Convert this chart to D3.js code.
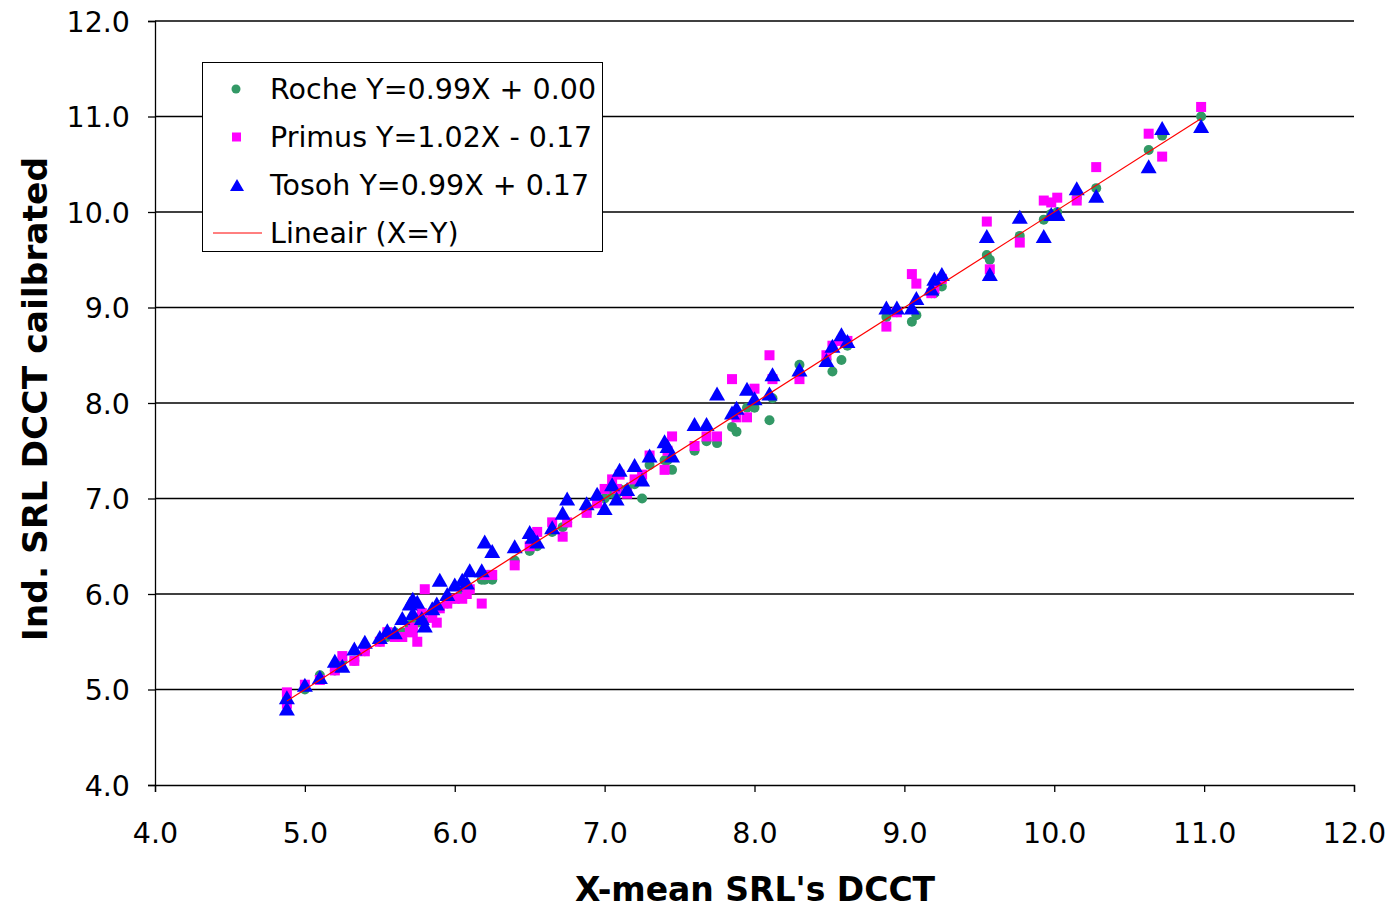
<!DOCTYPE html>
<html>
<head>
<meta charset="utf-8">
<script src="https://cdn.jsdelivr.net/npm/d3@7"></script>
<style>
  html, body { margin: 0; padding: 0; background: #fff; }
  svg { display: block; font-family: Tahoma, "DejaVu Sans", sans-serif; }
</style>
</head>
<body>
<svg id="chart" width="1394" height="911"></svg>
<script>
// X-mean of the SRLs per sample
const xMean = [4.88,4.88,5.0,5.1,5.2,5.25,5.33,5.4,5.5,5.55,5.6,5.65,5.7,5.72,5.72,5.75,5.78,5.8,5.85,5.88,5.9,5.95,6.0,6.05,6.08,6.1,6.18,6.2,6.25,6.4,6.5,6.52,6.55,6.65,6.72,6.75,6.88,6.95,7.0,7.05,7.08,7.1,7.15,7.2,7.25,7.3,7.4,7.42,7.45,7.6,7.68,7.75,7.85,7.88,7.95,8.0,8.1,8.12,8.3,8.48,8.52,8.58,8.62,8.88,8.95,9.05,9.08,9.18,9.2,9.25,9.55,9.57,9.77,9.93,9.98,10.02,10.15,10.28,10.63,10.72,10.98];
const roche  = [4.9,4.88,5.0,5.15,5.2,5.3,5.3,5.4,5.5,5.55,5.6,5.6,5.65,5.7,5.7,5.7,5.75,5.72,5.8,5.85,5.85,5.9,5.95,6.0,6.05,6.05,6.15,6.15,6.15,6.35,6.45,6.5,6.5,6.65,6.7,6.75,6.85,6.95,7.0,7.05,7.05,7.1,7.1,7.15,7.0,7.35,7.4,7.4,7.3,7.5,7.6,7.58,7.75,7.7,7.95,7.95,7.82,8.05,8.4,8.45,8.33,8.45,8.6,8.9,8.95,8.85,8.92,9.15,9.15,9.22,9.55,9.5,9.75,9.92,9.98,10.0,10.15,10.25,10.65,10.8,11.0];
const primus = [4.97,4.85,5.05,5.1,5.2,5.35,5.3,5.4,5.5,5.6,5.55,5.55,5.6,5.65,5.6,5.5,5.8,6.05,5.75,5.7,5.85,5.9,5.95,5.95,6.0,6.05,5.9,6.2,6.2,6.3,6.5,6.55,6.65,6.75,6.6,6.75,6.85,6.95,7.1,7.2,7.1,7.25,7.05,7.2,7.25,7.45,7.3,7.5,7.65,7.55,7.65,7.65,8.25,7.85,7.85,8.15,8.5,8.25,8.25,8.5,8.6,8.65,8.65,8.8,8.95,9.35,9.25,9.15,9.2,9.3,9.9,9.4,9.68,10.12,10.1,10.15,10.12,10.47,10.82,10.58,11.1];
const tosoh  = [4.92,4.8,5.05,5.13,5.3,5.25,5.43,5.5,5.55,5.62,5.6,5.75,5.9,5.8,5.95,5.92,5.75,5.67,5.85,5.9,6.15,6.0,6.1,6.15,6.12,6.25,6.25,6.55,6.45,6.5,6.65,6.6,6.55,6.7,6.85,7.0,6.95,7.05,6.9,7.15,7.0,7.3,7.1,7.35,7.2,7.45,7.6,7.55,7.45,7.78,7.78,8.1,7.9,7.95,8.15,8.05,8.1,8.3,8.35,8.45,8.6,8.72,8.65,9.0,9.0,9.0,9.1,9.2,9.3,9.35,9.75,9.35,9.95,9.75,9.98,9.98,10.25,10.17,10.48,10.88,10.9];
const xTicks = [4,5,6,7,8,9,10,11,12];
const yTicks = [4,5,6,7,8,9,10,11,12];
const legendLabels = ["Roche Y=0.99X + 0.00","Primus Y=1.02X - 0.17","Tosoh Y=0.99X + 0.17","Lineair (X=Y)"];
const lineRange = [4.88, 10.98];

const svg = d3.select("#chart");
const x = d3.scaleLinear().domain([4,12]).range([155,1354]);
const y = d3.scaleLinear().domain([4,12]).range([785,21]);

// gridlines
svg.append("g").selectAll("line").data(yTicks.filter(d=>d>4)).join("line")
  .attr("x1",155).attr("x2",1354).attr("y1",d=>y(d)).attr("y2",d=>y(d))
  .attr("stroke","#000").attr("stroke-width",1.3);

// axes
const fmt = d3.format(".1f");
const xAxis = svg.append("g").attr("transform","translate(0,785)")
  .call(d3.axisBottom(x).tickValues(xTicks).tickFormat(fmt).tickSize(7).tickPadding(31));
const yAxis = svg.append("g").attr("transform","translate(155,0)")
  .call(d3.axisLeft(y).tickValues(yTicks).tickFormat(fmt).tickSize(7).tickPadding(18));
[xAxis,yAxis].forEach(a=>{
  a.select(".domain").attr("stroke","#000").attr("stroke-width",1.3);
  a.selectAll(".tick line").attr("stroke","#000").attr("stroke-width",1.3);
  a.selectAll(".tick text").attr("fill","#000").style("font-size","28.5px")
   .style("font-family","Tahoma, 'DejaVu Sans', sans-serif");
});
yAxis.selectAll(".tick text").attr("dy","0.36em");

// markers
const data = xMean.map((d,i)=>({x:d, r:roche[i], p:primus[i], t:tosoh[i]}));
svg.append("g").selectAll("circle").data(data).join("circle")
  .attr("cx",d=>x(d.x)).attr("cy",d=>y(d.r)).attr("r",5).attr("fill","#339966");
svg.append("g").selectAll("rect").data(data).join("rect")
  .attr("x",d=>x(d.x)-5).attr("y",d=>y(d.p)-5).attr("width",10).attr("height",10).attr("fill","#FF00FF");
const triPath = (w,h)=>`M0,${-h/2}L${w/2},${h/2}L${-w/2},${h/2}Z`;
svg.append("g").selectAll("path").data(data).join("path")
  .attr("d",triPath(16,14)).attr("transform",d=>`translate(${x(d.x)},${y(d.t)})`).attr("fill","#0000FF");

// X=Y line
svg.append("line")
  .attr("x1",x(lineRange[0])).attr("y1",y(lineRange[0]))
  .attr("x2",x(lineRange[1])).attr("y2",y(lineRange[1]))
  .attr("stroke","#FF0000").attr("stroke-width",1.2);

// legend
const lg = svg.append("g");
lg.append("rect").attr("x",202.5).attr("y",62.5).attr("width",400).attr("height",189)
  .attr("fill","#fff").attr("stroke","#000").attr("stroke-width",1);
const rowsY = [89,137,185,233];
lg.append("circle").attr("cx",236).attr("cy",rowsY[0]).attr("r",4.5).attr("fill","#339966");
lg.append("rect").attr("x",232).attr("y",rowsY[1]-4.5).attr("width",9).attr("height",9).attr("fill","#FF00FF");
lg.append("path").attr("d",triPath(14,12)).attr("transform",`translate(237,${rowsY[2]})`).attr("fill","#0000FF");
lg.append("line").attr("x1",213).attr("x2",262).attr("y1",rowsY[3]).attr("y2",rowsY[3]).attr("stroke","#FF0000").attr("stroke-width",1);
lg.selectAll("text").data(legendLabels).join("text")
  .attr("x",270).attr("y",(d,i)=>rowsY[i]).attr("dy","0.36em")
  .style("font-size","28.5px").attr("fill","#000").text(d=>d).attr("xml:space","preserve");

// axis titles
svg.append("text").attr("x",755).attr("y",901).attr("text-anchor","middle")
  .style("font-size","33px").style("font-weight","bold").text("X-mean SRL's DCCT");
svg.append("text").attr("transform","translate(47,399) rotate(-90)").attr("text-anchor","middle")
  .style("font-size","34.5px").style("font-weight","bold").text("Ind. SRL DCCT cailbrated");
</script>
</body>
</html>
